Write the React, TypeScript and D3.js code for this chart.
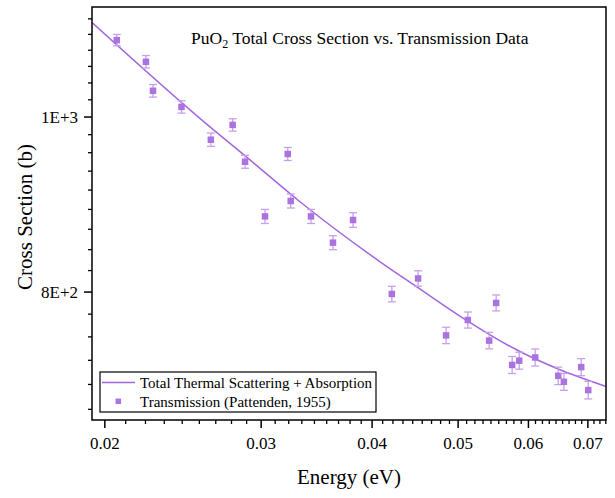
import React from "react";
import * as d3 from "d3";

// ---- data ----
const dataEnergy = [0.02063, 0.02225, 0.02266, 0.0244, 0.02633, 0.02786, 0.02877, 0.0303, 0.03214, 0.03239, 0.03414, 0.03614, 0.03807, 0.0421, 0.04507, 0.04846, 0.05127, 0.05419, 0.05518, 0.05752, 0.05858, 0.06106, 0.06482, 0.06578, 0.0688, 0.07007];
const dataSigma = [1103, 1073, 1034, 1013, 971.5, 990, 944.6, 881, 954, 898.5, 881, 852, 877, 798, 814, 757, 772, 752, 789, 729, 733, 736, 719, 713.5, 727, 706];
const dataError = [8, 8.5, 8.3, 8, 8.3, 7.8, 7.8, 7.9, 7.9, 8, 7.9, 7.6, 8.1, 7.9, 8, 7.9, 7.9, 7.9, 8, 7.9, 7.9, 8, 8, 7.7, 7.9, 7.9];

const lineEnergy = [0.01935, 0.02559, 0.02952, 0.03318, 0.04084, 0.04492, 0.05069, 0.05824, 0.06461, 0.07325];
const lineSigma = [1127.9, 998.3, 941.8, 897.6, 831.5, 805.4, 773.7, 743, 725.7, 709.5];

const xMajorTicks = [0.02, 0.03, 0.04, 0.05, 0.06, 0.07];
const xTickLabels = ["0.02", "0.03", "0.04", "0.05", "0.06", "0.07"];
const yMajorTicks = [800, 1000];
const yTickLabels = ["8E+2", "1E+3"];

const title = "PuO";
const titleSub = "2";
const titleRest = " Total Cross Section vs. Transmission Data";
const xTitle = "Energy (eV)";
const yTitle = "Cross Section (b)";
const legendLine = "Total Thermal Scattering + Absorption";
const legendPoints = "Transmission (Pattenden, 1955)";

// ---- layout ----
const W = 615;
const H = 498;
const L = 92, R = 606, T = 7, B = 420;
const FONT = "'Liberation Serif', 'Times New Roman', serif";
const LINE_COLOR = "#a267e0";
const MARK_COLOR = "#ab73e0";
const ERR_COLOR = "#c6a0ec";

export default function App() {
  const x = d3.scaleLog().domain([0.019345, 0.07337]).range([L, R]);
  const y = d3.scaleLog().domain([679.6, 1150.6]).range([B, T]);

  const xMinor: number[] = [];
  for (let i = 0; i < 80; i++) {
    const v = 0.02 + (i * 0.01) / 9;
    if (v > 0.07337) break;
    if (i % 9 !== 0) xMinor.push(v);
  }
  const yMinor: number[] = [];
  for (let i = -10; i < 30; i++) {
    const v = 800 + (i * 200) / 9;
    if (v < 679.6 || v > 1150.6) continue;
    if (((i % 9) + 9) % 9 !== 0) yMinor.push(v);
  }

  const line = d3
    .line<number>()
    .x((_, i) => x(lineEnergy[i]))
    .y((d) => y(d))
    .curve(d3.curveMonotoneX);

  const ms = 6.5;
  const cap = 4;

  return (
    <svg width={W} height={H} style={{ position: "absolute", left: 0, top: 0, background: "#fff" }} fontFamily={FONT}>
      <rect x={0} y={0} width={W} height={H} fill="#fff" />
      <defs>
        <clipPath id="plotclip">
          <rect x={L} y={T} width={R - L} height={B - T} />
        </clipPath>
      </defs>

      {/* line */}
      <path d={line(lineSigma) || ""} fill="none" stroke={LINE_COLOR} strokeWidth={1.5} clipPath="url(#plotclip)" />

      {/* error bars and markers */}
      {dataEnergy.map((e, i) => {
        const cx = x(e);
        const y1 = y(dataSigma[i] + dataError[i]);
        const y2 = y(dataSigma[i] - dataError[i]);
        return (
          <g key={i}>
            <line x1={cx} x2={cx} y1={y1} y2={y2} stroke={ERR_COLOR} strokeWidth={1.3} />
            <line x1={cx - cap} x2={cx + cap} y1={y1} y2={y1} stroke={ERR_COLOR} strokeWidth={1.3} />
            <line x1={cx - cap} x2={cx + cap} y1={y2} y2={y2} stroke={ERR_COLOR} strokeWidth={1.3} />
            <rect x={cx - ms / 2} y={y(dataSigma[i]) - ms / 2} width={ms} height={ms} fill={MARK_COLOR} />
          </g>
        );
      })}

      {/* frame */}
      <rect x={L} y={T} width={R - L} height={B - T} fill="none" stroke="#000" strokeWidth={1.5} />

      {/* x ticks */}
      {xMinor.map((v, i) => (
        <line key={"xm" + i} x1={x(v)} x2={x(v)} y1={B} y2={B + 4} stroke="#000" strokeWidth={1.3} />
      ))}
      {xMajorTicks.map((v, i) => (
        <g key={"xM" + i}>
          <line x1={x(v)} x2={x(v)} y1={B} y2={B + 8} stroke="#000" strokeWidth={1.5} />
          <text x={x(v)} y={449} textAnchor="middle" fontSize={17} fill="#000">
            {xTickLabels[i]}
          </text>
        </g>
      ))}

      {/* y ticks */}
      {yMinor.map((v, i) => (
        <line key={"ym" + i} x1={L - 4} x2={L} y1={y(v)} y2={y(v)} stroke="#000" strokeWidth={1.3} />
      ))}
      {yMajorTicks.map((v, i) => (
        <g key={"yM" + i}>
          <line x1={L - 8} x2={L} y1={y(v)} y2={y(v)} stroke="#000" strokeWidth={1.5} />
          <text x={78} y={y(v) + 6} textAnchor="end" fontSize={17} fill="#000">
            {yTickLabels[i]}
          </text>
        </g>
      ))}

      {/* titles */}
      <text x={191} y={44} fontSize={17.5} fill="#000">
        {title}
        <tspan fontSize={12} dy={4}>{titleSub}</tspan>
        <tspan dy={-4}>{titleRest}</tspan>
      </text>
      <text x={349} y={484} textAnchor="middle" fontSize={21} fill="#000">
        {xTitle}
      </text>
      <text transform={`translate(32,217) rotate(-90)`} textAnchor="middle" fontSize={21} fill="#000">
        {yTitle}
      </text>

      {/* legend */}
      <rect x={100} y={372} width={276} height={40} fill="#fff" stroke="#000" strokeWidth={1.2} />
      <line x1={102} x2={135} y1={382.5} y2={382.5} stroke={LINE_COLOR} strokeWidth={1.5} />
      <text x={140} y={388} fontSize={15} fill="#000">
        {legendLine}
      </text>
      <rect x={118.3 - 2.75} y={401.3 - 2.75} width={5.5} height={5.5} fill={MARK_COLOR} />
      <text x={140} y={406.5} fontSize={15} fill="#000">
        {legendPoints}
      </text>
    </svg>
  );
}
